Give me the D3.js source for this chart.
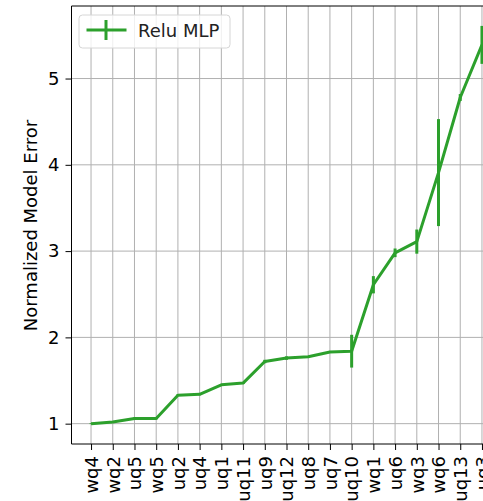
<!DOCTYPE html>
<html>
<head>
<meta charset="utf-8">
<script src="https://cdn.jsdelivr.net/npm/d3@7"></script>
<style>
  body { margin: 0; background: #fff; }
  svg { display: block; font-family: "DejaVu Sans", sans-serif; }
</style>
</head>
<body>
<svg width="483" height="501"></svg>
<script>
// The data:
const categories = ['wq4', 'wq2', 'uq5', 'wq5', 'uq2', 'uq4', 'uq1', 'uq11', 'uq9', 'uq12',
  'uq8', 'uq7', 'uq10', 'wq1', 'uq6', 'wq3', 'wq6', 'uq13', 'uq3']
const errorMean = [1.0, 1.02, 1.06, 1.06, 1.33, 1.34, 1.45, 1.47, 1.72, 1.76,
  1.775, 1.83, 1.84, 2.61, 2.98, 3.11, 3.91, 4.78, 5.39]
const errorStd = [0.005, 0.01, 0.01, 0.01, 0.01, 0.01, 0.01, 0.01, 0.02, 0.02,
  0.01, 0.01, 0.19, 0.1, 0.05, 0.14, 0.62, 0.04, 0.22]
const yTicks = [1, 2, 3, 4, 5]
const seriesName = 'Relu MLP'

const color = '#2ca02c'
const pLeft = 71.5, pRight = 501.5, pTop = 6, pBottom = 444
const fontSize = 18

const svg = d3.select('svg')
const pts = categories.map((c, i) => ({ c, i, v: errorMean[i], e: errorStd[i] }))

// Scales with matplotlib-like 5% margins:
const n = categories.length - 1
let xScale = d3.scaleLinear().domain([-0.05 * n, n + 0.05 * n]).range([pLeft, pRight])
let lo = d3.min(pts, (d) => d.v - d.e)
let hi = d3.max(pts, (d) => d.v + d.e)
let pad = (hi - lo) * 0.05
let yScale = d3.scaleLinear().domain([lo - pad, hi + pad]).range([pBottom, pTop])

// Grid:
const grid = svg.append('g').attr('stroke', '#b0b0b0').attr('stroke-width', 1)
grid.selectAll('.vx').data(pts).enter().append('line')
  .attr('x1', (d) => xScale(d.i)).attr('x2', (d) => xScale(d.i))
  .attr('y1', pTop).attr('y2', pBottom)
grid.selectAll('.hy').data(yTicks).enter().append('line')
  .attr('x1', pLeft).attr('x2', pRight)
  .attr('y1', (d) => yScale(d)).attr('y2', (d) => yScale(d))

// Line and error bars:
svg.append('path')
  .datum(pts)
  .attr('fill', 'none')
  .attr('stroke', color)
  .attr('stroke-width', 3)
  .attr('stroke-linejoin', 'round')
  .attr('d', d3.line().x((d) => xScale(d.i)).y((d) => yScale(d.v)))

svg.selectAll('.err').data(pts).enter().append('line')
  .attr('stroke', color)
  .attr('stroke-width', 3)
  .attr('x1', (d) => xScale(d.i)).attr('x2', (d) => xScale(d.i))
  .attr('y1', (d) => yScale(d.v - d.e)).attr('y2', (d) => yScale(d.v + d.e))

// Axes:
let xAxis = d3.axisBottom(xScale).tickValues(d3.range(categories.length))
  .tickFormat((i) => categories[i]).tickSize(6).tickPadding(6)
let xg = svg.append('g').attr('transform', `translate(0,${pBottom})`).call(xAxis)
xg.select('.domain').remove()
xg.selectAll('.tick line').attr('stroke', '#000').attr('stroke-width', 1)
xg.selectAll('.tick text')
  .attr('font-size', fontSize).attr('font-family', '"DejaVu Sans", sans-serif').attr('fill', '#000')
  .attr('text-anchor', 'end')
  .attr('dy', '0.35em')
  .attr('x', 0)
  .attr('y', 0)
  .attr('transform', 'translate(0,12) rotate(-90)')

let yAxis = d3.axisLeft(yScale).tickValues(yTicks).tickFormat(d3.format('d')).tickSize(6).tickPadding(6)
let yg = svg.append('g').attr('transform', `translate(${pLeft},0)`).call(yAxis)
yg.select('.domain').remove()
yg.selectAll('.tick line').attr('stroke', '#000').attr('stroke-width', 1)
yg.selectAll('.tick text')
  .attr('font-size', fontSize).attr('font-family', '"DejaVu Sans", sans-serif').attr('fill', '#000')

// Spines:
const spines = svg.append('g').attr('stroke', '#000').attr('stroke-width', 1)
spines.append('line').attr('x1', pLeft).attr('x2', pLeft).attr('y1', pTop).attr('y2', pBottom)
spines.append('line').attr('x1', pLeft).attr('x2', pRight).attr('y1', pTop).attr('y2', pTop)
spines.append('line').attr('x1', pLeft).attr('x2', pRight).attr('y1', pBottom).attr('y2', pBottom)

// Y label:
svg.append('text')
  .attr('transform', `translate(37,${(pTop + pBottom) / 2 + 0.5}) rotate(-90)`)
  .attr('text-anchor', 'middle')
  .attr('font-size', fontSize)
  .text('Normalized Model Error')

// Legend:
const lg = svg.append('g').attr('transform', 'translate(79,15)')
lg.append('rect').attr('width', 151).attr('height', 33).attr('rx', 3.5)
  .attr('fill', 'rgba(255,255,255,0.8)').attr('stroke', '#d6d6d6').attr('stroke-width', 1)
lg.append('line').attr('x1', 7.5).attr('x2', 47.5).attr('y1', 15).attr('y2', 15)
  .attr('stroke', color).attr('stroke-width', 3)
lg.append('line').attr('x1', 27).attr('x2', 27).attr('y1', 5).attr('y2', 25)
  .attr('stroke', color).attr('stroke-width', 3)
lg.append('text').attr('x', 59).attr('y', 21.5)
  .attr('font-size', fontSize).attr('fill', '#222').text(seriesName)
</script>
</body>
</html>
